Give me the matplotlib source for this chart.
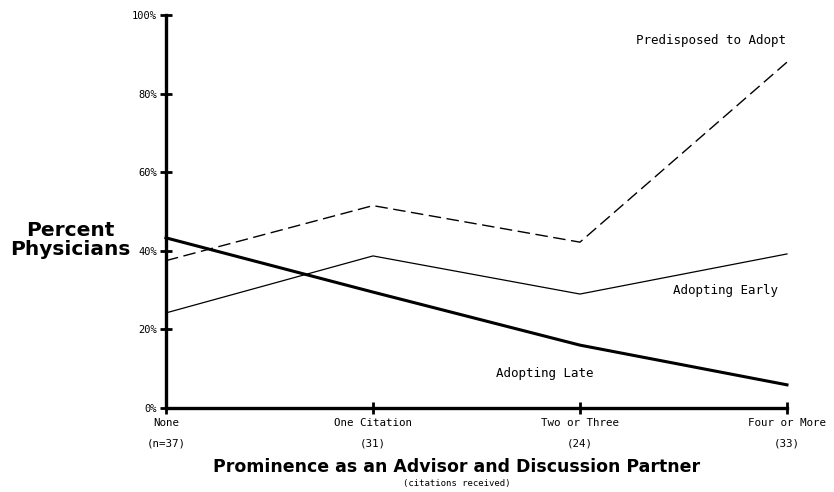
import matplotlib
matplotlib.use("Agg")
import matplotlib.pyplot as plt

# data
categories = ["None", "One Citation", "Two or Three", "Four or More"]
counts = ["(n=37)", "(31)", "(24)", "(33)"]
predisposed = [37.5, 51.5, 42.2, 88.0]
adopting_early = [24.2, 38.7, 29.0, 39.2]
adopting_late = [43.3, 29.5, 16.0, 5.9]
yticks = [0, 20, 40, 60, 80, 100]

mono = "DejaVu Sans Mono"
bold = "DejaVu Sans"

fig = plt.figure(figsize=(8.34, 4.92), dpi=100)
ax = fig.add_axes([0.199, 0.1707, 0.7446, 0.7988])

x = list(range(len(categories)))
ax.plot(x, predisposed, color="black", lw=1.0, ls=(0, (9, 4)), clip_on=False)
ax.plot(x, adopting_early, color="black", lw=0.9, clip_on=False)
ax.plot(x, adopting_late, color="black", lw=2.2, clip_on=False)

ax.set_xlim(0, 3)
ax.set_ylim(0, 100)

for s in ["top", "right"]:
    ax.spines[s].set_visible(False)
for s in ["left", "bottom"]:
    ax.spines[s].set_linewidth(2.4)

ax.set_yticks(yticks)
ax.set_yticklabels([f"{v}%" for v in yticks], family=mono, fontsize=7.5)
ax.set_xticks(x)
ax.set_xticklabels([f"{c}\n\n{n}" for c, n in zip(categories, counts)],
                   family=mono, fontsize=7.8, linespacing=1.0)
ax.tick_params(axis="both", direction="inout", length=9, width=2, pad=3)
ax.tick_params(axis="y", pad=2)

ax.text(2.633, 93.6, "Predisposed to Adopt", family=mono, fontsize=9, ha="center", va="center")
ax.text(2.705, 30, "Adopting Early", family=mono, fontsize=9, ha="center", va="center")
ax.text(1.831, 8.7, "Adopting Late", family=mono, fontsize=9, ha="center", va="center")

fig.text(0.084, 0.512, "Percent\nPhysicians", family=bold, fontweight="bold",
         fontsize=14.5, ha="center", va="center", linespacing=0.95)
fig.text(0.548, 0.05, "Prominence as an Advisor and Discussion Partner",
         family=bold, fontweight="bold", fontsize=12.5, ha="center", va="center")
fig.text(0.548, 0.018, "(citations received)", family=mono, fontsize=6.5,
         ha="center", va="center")

fig.savefig("out.png", dpi=100)
